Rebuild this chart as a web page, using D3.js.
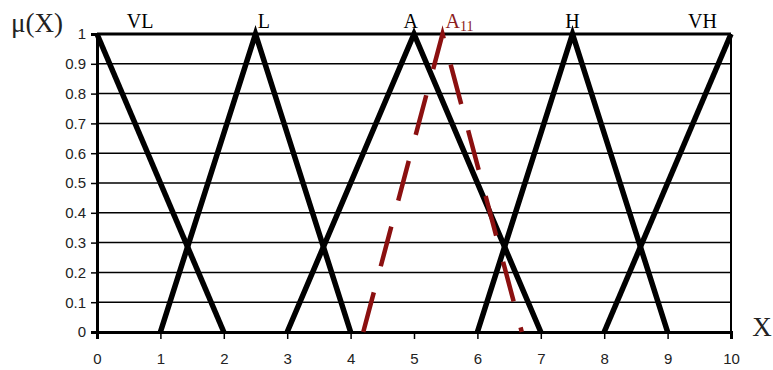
<!DOCTYPE html>
<html lang="en">
<head>
  <meta charset="UTF-8">
  <title>Membership functions</title>
  <script src="https://d3js.org/d3.v7.min.js"></script>
  <style>
    body { margin: 0; background: #fff; }
    .tick text { font-family: Arial, "Liberation Sans", sans-serif; font-size: 15px; fill: #222; }
    .serif { font-family: "Liberation Serif", "DejaVu Serif", serif; }
  </style>
</head>
<body>
  <svg></svg>
  <script>
    // membership functions (x at membership 0 / 1 / 0)
    const setNames = ["VL", "L", "A", "H", "VH"];
    const setPoints = [
      [[0, 1], [2, 0]],
      [[1, 0], [2.5, 1], [4, 0]],
      [[3, 0], [5, 1], [7, 0]],
      [[6, 0], [7.5, 1], [9, 0]],
      [[8, 0], [10, 1]]
    ];
    const labelX = [0.68, 2.63, 4.95, 7.5, 9.55];
    const a11Points = [[4.2, 0], [5.45, 1], [6.7, 0]];
    const xTicks = [0, 1, 2, 3, 4, 5, 6, 7, 8, 9, 10];
    const yTicks = [0, 0.1, 0.2, 0.3, 0.4, 0.5, 0.6, 0.7, 0.8, 0.9, 1];

    const width = 773, height = 370;
    const margin = { top: 34, right: 42, bottom: 38, left: 97 };
    const svg = d3.select("svg").attr("width", width).attr("height", height);

    const x = d3.scaleLinear().domain([0, 10]).range([margin.left, width - margin.right]);
    const y = d3.scaleLinear().domain([0, 1]).range([height - margin.bottom, margin.top]);

    // horizontal grid lines
    svg.append("g").selectAll("line").data(yTicks.slice(1, -1)).enter().append("line")
      .attr("x1", x(0)).attr("x2", x(10)).attr("y1", d => y(d)).attr("y2", d => y(d))
      .attr("stroke", "#000").attr("stroke-width", 1.5);

    // frame top / right
    svg.append("line").attr("x1", x(0)).attr("x2", x(10)).attr("y1", y(1)).attr("y2", y(1))
      .attr("stroke", "#000").attr("stroke-width", 3);
    svg.append("line").attr("x1", x(10)).attr("x2", x(10)).attr("y1", y(1)).attr("y2", y(0))
      .attr("stroke", "#000").attr("stroke-width", 2);

    // axes
    const xAxis = svg.append("g").attr("transform", `translate(0,${y(0)})`)
      .call(d3.axisBottom(x).tickValues(xTicks).tickSize(7).tickPadding(14).tickFormat(d3.format("d")));
    xAxis.select(".domain").attr("stroke-width", 3);
    xAxis.selectAll(".tick line").attr("stroke-width", 1.5);

    const yAxis = svg.append("g").attr("transform", `translate(${x(0)},0)`)
      .call(d3.axisLeft(y).tickValues(yTicks).tickSize(6).tickPadding(5).tickFormat(d => d === 0 || d === 1 ? d3.format("d")(d) : d3.format(".1f")(d)));
    yAxis.select(".domain").attr("stroke-width", 3);
    yAxis.selectAll(".tick line").attr("stroke-width", 1.5);

    const line = d3.line().x(d => x(d[0])).y(d => y(d[1]));

    // black membership triangles
    svg.append("g").selectAll("path").data(setPoints).enter().append("path")
      .attr("d", line).attr("fill", "none").attr("stroke", "#000")
      .attr("stroke-width", 5.5).attr("stroke-linejoin", "miter");

    // A11 dashed
    svg.append("path").datum(a11Points).attr("d", line).attr("fill", "none")
      .attr("stroke", "#8b1010").attr("stroke-width", 4.5).attr("stroke-dasharray", "41,27");

    // set labels
    svg.append("g").selectAll("text").data(setNames).enter().append("text")
      .attr("class", "serif").attr("x", (d, i) => x(labelX[i])).attr("y", 28)
      .attr("text-anchor", "middle").attr("font-size", 20).text(d => d);

    const a11 = svg.append("text").attr("class", "serif").attr("x", x(5.45) + 3).attr("y", 28)
      .attr("font-size", 20).attr("fill", "#8b2020");
    a11.append("tspan").text("A");
    a11.append("tspan").attr("font-size", 14).attr("dy", 3).text("11");

    // axis titles
    svg.append("text").attr("class", "serif").attr("x", 11).attr("y", 32)
      .attr("font-size", 27).attr("fill", "#222").text("μ(X)");
    svg.append("text").attr("class", "serif").attr("x", 762).attr("y", 336)
      .attr("font-size", 27).attr("fill", "#222").attr("text-anchor", "middle").text("X");
  </script>
</body>
</html>
